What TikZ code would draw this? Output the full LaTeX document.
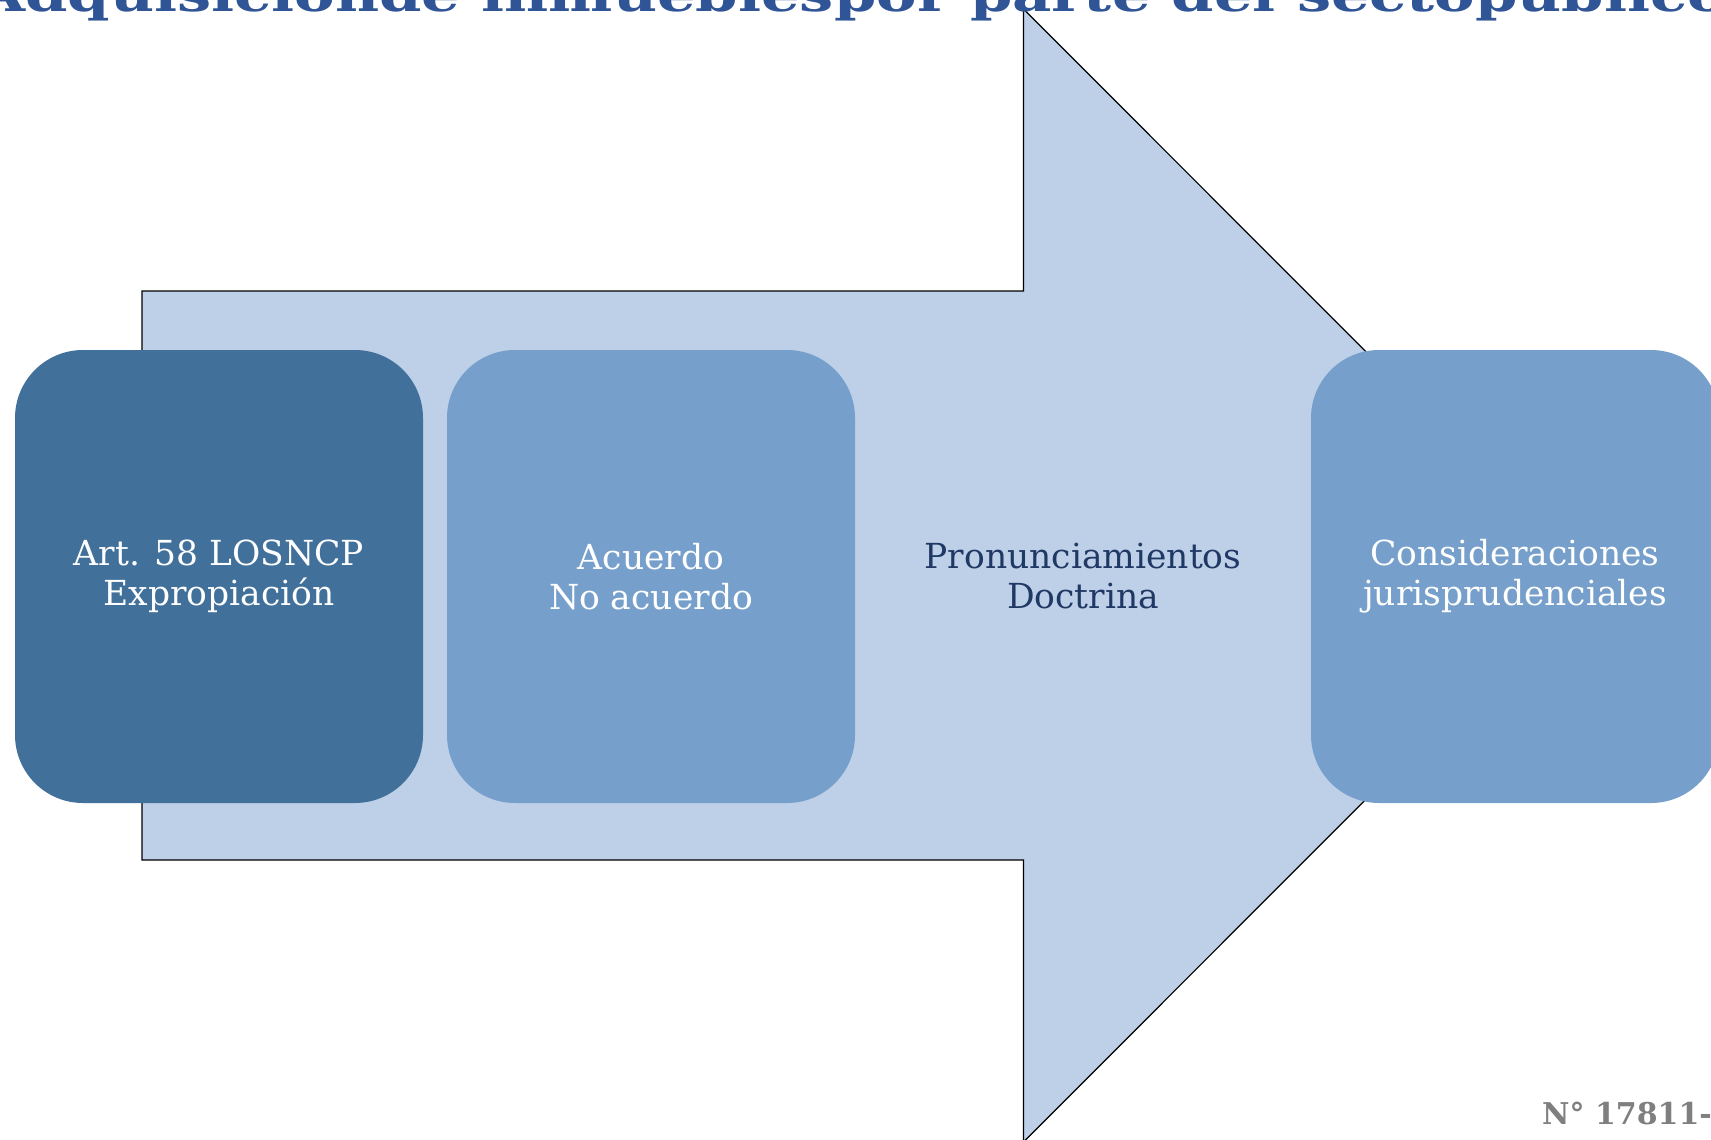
\documentclass[tikz,border=0pt]{standalone}
\usepackage{fontspec}
\setmainfont{DejaVu Serif}
\definecolor{arrowfill}{HTML}{BDD0E8}
\definecolor{darkbox}{HTML}{41709B}
\definecolor{lightbox}{HTML}{76A0CB}
\definecolor{titleblue}{HTML}{2F5597}
\definecolor{navytext}{HTML}{203864}
\definecolor{numgray}{HTML}{7F7F7F}
\tikzset{
  stepbox/.style={rounded corners=68pt, minimum width=408pt, minimum height=453pt,
    inner sep=0pt, align=center, font=\fontsize{34.5}{40}\selectfont, text=white},
}
\begin{document}
\begin{tikzpicture}[x=1pt,y=-1pt]
\useasboundingbox (0,0) rectangle (1711,1140);
\clip (0,0) rectangle (1711,1140);
\fill[white] (0,0) rectangle (1711,1140);
% big arrow
\draw[fill=arrowfill, draw=black, line width=1.2pt]
  (142,291) -- (1023.5,291) -- (1023.5,9) -- (1589.5,575.5) -- (1023.5,1142)
  -- (1023.5,860) -- (142,860) -- cycle;
% title (cut at top)
\node[anchor=base west, inner sep=0pt, text=titleblue,
  font=\fontsize{46}{56}\selectfont\bfseries] (title) at (-22,12)
  {\scalebox{1.32}[1]{Adquisiciónde inmueblespor parte del sectopúblico}};
% boxes
\node[stepbox, fill=darkbox] (b1) at (219,576.5) {Art. 58 LOSNCP\\Expropiación};
\node[stepbox, fill=lightbox] (b2) at (651,576.5) {Acuerdo\\No acuerdo};
\node[stepbox, text=navytext] (b3) at (1083,576.5) {Pronunciamientos\\Doctrina};
\node[stepbox, fill=lightbox] (b4) at (1515,576.5) {Consideraciones\\jurisprudenciales};
% number
\node[anchor=base west, inner sep=0pt, text=numgray,
  font=\fontsize{30}{36}\selectfont\bfseries] (num) at (1542,1124) {N° 17811-2};
\end{tikzpicture}
\end{document}
